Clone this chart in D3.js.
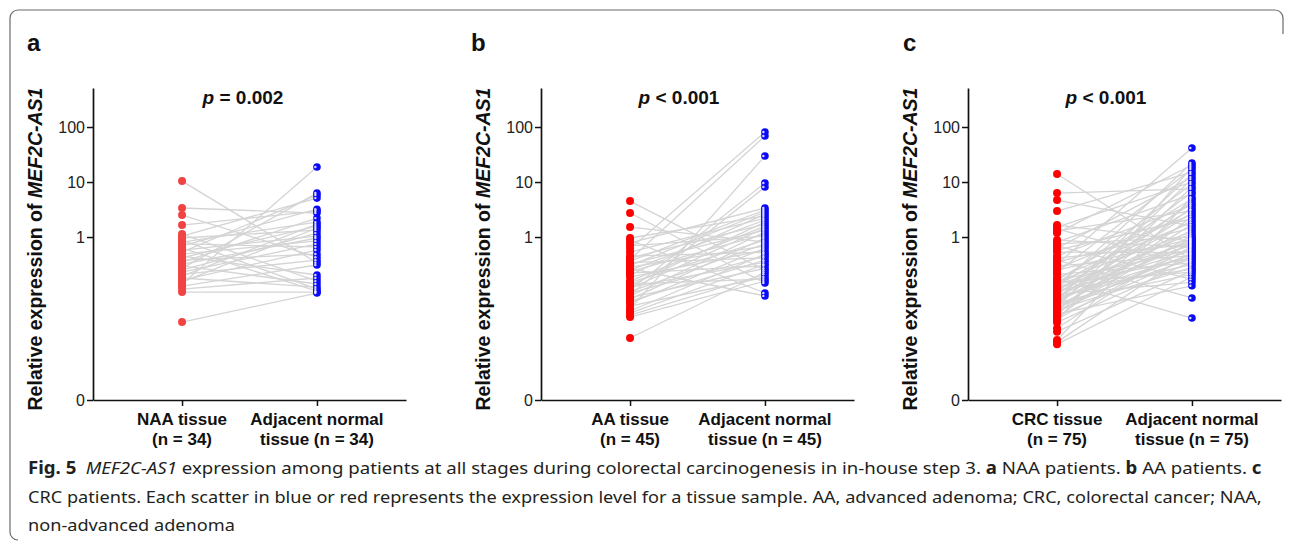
<!DOCTYPE html>
<html><head><meta charset="utf-8">
<script src="https://cdn.jsdelivr.net/npm/d3@7"></script>
<style>body{margin:0;background:#fff}svg{display:block}</style>
</head><body>
<svg id="chart" width="1293" height="542"></svg>
<script>
// ---------------- DATA ----------------
const yTickValues = [0.00109, 1, 10, 100];
const yTickLabels = ["0", "1", "10", "100"];
const yTop = 512;

const categoriesA = [["NAA tissue", "(n = 34)"], ["Adjacent normal", "tissue (n = 34)"]];
const categoriesB = [["AA tissue", "(n = 45)"], ["Adjacent normal", "tissue (n = 45)"]];
const categoriesC = [["CRC tissue", "(n = 75)"], ["Adjacent normal", "tissue (n = 75)"]];

const pLabels = ["= 0.002", "< 0.001", "< 0.001"];
const panelLetters = ["a", "b", "c"];

// panel a: NAA tissue vs paired adjacent normal (index i = same patient)
const naaTissue = [10.4, 3.37, 2.51, 1.65, 1.13, 1.04, 0.96, 0.88, 0.81, 0.75, 0.69, 0.63, 0.58, 0.53, 0.49, 0.45, 0.42,
  0.38, 0.35, 0.32, 0.30, 0.27, 0.25, 0.23, 0.21, 0.195, 0.18, 0.165, 0.152, 0.14, 0.128, 0.113, 0.10, 0.0285];
const naaAdjacent = [0.34, 2.73, 0.43, 2.97, 0.158, 5.1, 1.34, 0.113, 1.87, 0.66, 3.2, 0.104, 1.04, 5.8, 0.85, 0.204, 1.58,
  0.49, 2.21, 0.96, 0.14, 6.3, 1.18, 0.75, 0.38, 1.72, 0.123, 0.58, 1.46, 18.7, 0.31, 0.18, 0.10, 0.096];

// panel b: AA tissue vs paired adjacent normal
const aaTissue = [4.5, 2.73, 1.52, 0.96, 0.88, 0.78, 0.69, 0.61, 0.53, 0.45, 0.415, 0.39, 0.366, 0.344, 0.323, 0.303,
  0.285, 0.268, 0.251, 0.236, 0.221, 0.204, 0.1875, 0.158, 0.149, 0.14, 0.131, 0.123, 0.116, 0.109, 0.102, 0.096, 0.090,
  0.0846, 0.0794, 0.0746, 0.0686, 0.063, 0.0556, 0.049, 0.0452, 0.0415, 0.0382, 0.0351, 0.0146];
const aaAdjacent = [0.25, 0.146, 0.81, 2.41, 0.096, 3.37, 1.04, 81, 2.21, 0.53, 1.72, 68.6, 3.1, 0.42, 1.34, 2.85,
  0.69, 0.085, 2.04, 1.13, 0.30, 2.62, 0.58, 1.58, 0.88, 0.172, 1.87, 0.35, 1.46, 9.6, 0.75, 0.45, 8.1,
  1.23, 0.27, 0.96, 0.38, 0.63, 0.1875, 29.7, 0.49, 0.32, 0.21, 0.158, 0.23];

// panel c: CRC tissue vs paired adjacent normal
const crcTissue = [14.0, 6.3, 4.7, 2.97, 1.65, 1.52, 1.40, 1.29, 1.18, 0.88, 0.81, 0.75, 0.69, 0.63, 0.58, 0.53,
  0.45, 0.415, 0.38, 0.35, 0.32, 0.30, 0.27, 0.25, 0.23, 0.21, 0.18, 0.172, 0.166, 0.160, 0.154, 0.148, 0.142, 0.137,
  0.132, 0.127, 0.122, 0.117, 0.112, 0.108, 0.104, 0.100, 0.096, 0.092, 0.088, 0.085, 0.082, 0.079, 0.076, 0.073,
  0.070, 0.067, 0.064, 0.061, 0.058, 0.056, 0.054, 0.052, 0.050, 0.048, 0.046, 0.044, 0.042, 0.040, 0.038, 0.036,
  0.034, 0.032, 0.030, 0.028, 0.022, 0.019, 0.0134, 0.0123, 0.0113];
const crcAdjacent = [0.38, 7.5, 1.58, 15.2, 0.84, 10.0, 0.30, 3.0, 20.4, 0.65, 6.05, 1.0, 0.17, 12.3, 2.15, 0.52,
  3.8, 0.74, 0.078, 1.46, 41.5, 0.46, 2.55, 0.92, 17.2, 0.34, 1.85, 0.0337, 4.9, 0.595, 1.25, 0.23, 9.2, 0.80,
  3.2, 0.42, 22.2, 0.71, 1.16, 0.26, 4.1, 0.57, 2.0, 0.15, 6.6, 0.89, 0.32, 2.75, 0.48, 14.0,
  0.77, 1.35, 0.21, 4.5, 0.40, 0.95, 11.3, 0.50, 1.7, 0.28, 3.5, 0.62, 1.08, 0.13, 8.1, 0.44,
  2.35, 0.68, 18.7, 0.36, 0.86, 0.245, 5.3, 0.545, 0.19];

const captionLines = [
  [["b", "Fig. 5"], ["n", "\u2002"], ["i", "MEF2C-AS1"], ["n", " expression among patients at all stages during colorectal carcinogenesis in in-house step 3. "],
   ["b", "a"], ["n", " NAA patients. "], ["b", "b"], ["n", " AA patients. "], ["b", "c"]],
  [["n", "CRC patients. Each scatter in blue or red represents the expression level for a tissue sample. AA, advanced adenoma; CRC, colorectal cancer; NAA,"]],
  [["n", "non-advanced adenoma"]]
];

// ---------------- LAYOUT ----------------
const svg = d3.select("#chart");
const FONT = "'Liberation Sans', Arial, sans-serif";
const plotTop = 88, plotBottom = 400, plotW = 313;

// frame
svg.append("path")
  .attr("d", "M1283,34 V18 A8,8 0 0 0 1275,10 H18 A8,8 0 0 0 10,18 V532 A8,8 0 0 0 18,540")
  .attr("fill", "none").attr("stroke", "#6b6b6b").attr("stroke-width", 1.2);

const panels = [
  {x0: 93, letterX: 27, pX: 243, cats: categoriesA, t: naaTissue, n: naaAdjacent, red: "#f24343"},
  {x0: 541, letterX: 471, pX: 679, cats: categoriesB, t: aaTissue, n: aaAdjacent, red: "#ff0000"},
  {x0: 968, letterX: 903, pX: 1106, cats: categoriesC, t: crcTissue, n: crcAdjacent, red: "#ff0000"}
];

const y = d3.scaleLog().domain([yTickValues[0], yTop]).range([plotBottom, plotTop]);

panels.forEach((p, k) => {
  const g = svg.append("g");
  const catKeys = p.cats.map(c => c.join(" "));
  const x = d3.scalePoint().domain(catKeys).range([p.x0, p.x0 + plotW]).padding(0.66);

  // panel letter
  g.append("text").attr("x", p.letterX).attr("y", 51).style("font-family", FONT)
    .attr("font-weight", "bold").attr("font-size", 24).attr("fill", "#111").text(panelLetters[k]);

  // y axis
  const ya = g.append("g").attr("transform", `translate(${p.x0},0)`)
    .call(d3.axisLeft(y).tickValues(yTickValues).tickFormat((d, i) => yTickLabels[i]).tickSize(6).tickSizeOuter(0));
  ya.attr("font-family", null);
  ya.select(".domain").attr("stroke", "#111").attr("stroke-width", 1.7);
  ya.selectAll(".tick line").attr("stroke", "#111").attr("stroke-width", 1.5);
  ya.selectAll(".tick text").style("font-family", FONT).attr("font-size", 16).attr("fill", "#222").attr("x", -8);

  // x axis
  const xa = g.append("g").attr("transform", `translate(0,${plotBottom})`)
    .call(d3.axisBottom(x).tickSize(6).tickSizeOuter(0).tickFormat(""));
  xa.select(".domain").attr("stroke", "#111").attr("stroke-width", 1.7);
  xa.selectAll(".tick line").attr("stroke", "#111").attr("stroke-width", 1.5);

  // x labels (two lines)
  p.cats.forEach((c, ci) => {
    const t = g.append("text").attr("text-anchor", "middle").style("font-family", FONT)
      .attr("font-weight", "bold").attr("font-size", 17).attr("fill", "#111");
    c.forEach((line, li) => {
      t.append("tspan").attr("x", x(catKeys[ci])).attr("y", 425 + li * 20).text(line);
    });
  });

  // y axis title
  const yt = g.append("text").attr("transform", `translate(${p.x0 - 51},249) rotate(-90)`)
    .attr("text-anchor", "middle").style("font-family", FONT).attr("font-weight", "bold")
    .attr("font-size", 19.5).attr("fill", "#111");
  yt.append("tspan").text("Relative expression of ");
  yt.append("tspan").attr("font-style", "italic").text("MEF2C-AS1");

  // p value
  const pt = g.append("text").attr("x", p.pX).attr("y", 104).attr("text-anchor", "middle")
    .style("font-family", FONT).attr("font-weight", "bold").attr("font-size", 19).attr("fill", "#111");
  pt.append("tspan").attr("font-style", "italic").text("p");
  pt.append("tspan").text(" " + pLabels[k]);

  // paired lines
  const pairs = p.t.map((v, i) => ({a: v, b: p.n[i]}));
  g.append("g").selectAll("line").data(pairs).join("line")
    .attr("x1", x(catKeys[0])).attr("x2", x(catKeys[1]))
    .attr("y1", d => y(d.a)).attr("y2", d => y(d.b))
    .attr("stroke", "#d4d4d4").attr("stroke-width", 1.3);

  // red points
  g.append("g").selectAll("circle").data(p.t).join("circle")
    .attr("cx", x(catKeys[0])).attr("cy", d => y(d)).attr("r", 4).attr("fill", p.red);

  // blue points
  const bg = g.append("g");
  bg.selectAll("circle.b").data(p.n).join("circle").attr("class", "b")
    .attr("cx", x(catKeys[1])).attr("cy", d => y(d)).attr("r", 3.8).attr("fill", "#0a0af5");
  bg.selectAll("circle.w").data(p.n).join("circle").attr("class", "w")
    .attr("cx", x(catKeys[1]) - 1.6).attr("cy", d => y(d)).attr("r", 1.2).attr("fill", "#ffffff").attr("opacity", 0.85);
});

// caption
const capTargets = [[28, 474, 1234], [28, 503, 1234], [28, 531, null]];
let lastScale = 1;
captionLines.forEach((segs, li) => {
  const [cx, cy, targetW] = capTargets[li];
  const g = svg.append("g");
  const t = g.append("text").style("font-family", "'Noto Sans', sans-serif")
    .attr("font-size", 17).attr("fill", "#231f20").style("white-space", "pre");
  segs.forEach(([s, str]) => {
    const ts = t.append("tspan").text(str);
    if (s === "b") ts.attr("font-weight", "bold");
    if (s === "i") ts.attr("font-style", "italic");
  });
  const w = t.node().getComputedTextLength();
  const sx = targetW ? targetW / w : lastScale;
  lastScale = sx;
  g.attr("transform", `translate(${cx},${cy}) scale(${sx},1)`);
});
</script>
</body></html>
